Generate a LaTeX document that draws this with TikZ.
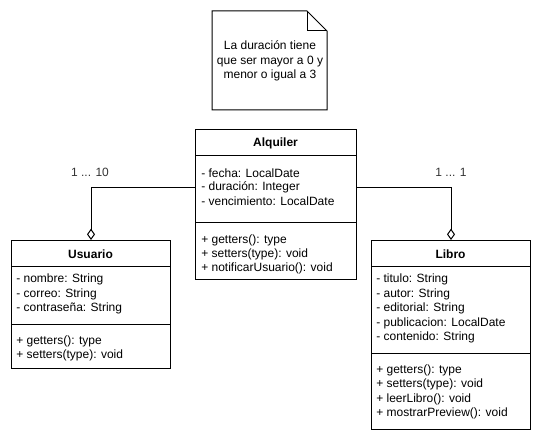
\documentclass[tikz,border=0pt]{standalone}
\usepackage{fontspec}
\setmainfont{Liberation Sans}
\usetikzlibrary{arrows.meta}
\begin{document}
\begin{tikzpicture}[x=0.75pt,y=-0.75pt,
  box/.style={draw,line width=0.75pt,inner sep=0,anchor=north west},
  txt/.style={inner sep=0,anchor=west,font=\fontsize{9}{10}\selectfont},
  ttl/.style={inner sep=0,font=\fontsize{9}{10}\selectfont\bfseries},
  mult/.style={inner sep=0,font=\fontsize{9}{10}\selectfont,text=black!80},
  conn/.style={line width=0.75pt,-{Diamond[open,length=8.5pt,width=6pt]}}]
\useasboundingbox (0,0) rectangle (541,441);
% note
\draw[line width=0.75pt] (212,11) -- (307,11) -- (327,31) -- (327,110) -- (212,110) -- cycle;
\draw[line width=0.75pt] (307,11) -- (307,31) -- (327,31);
\node[inner sep=0,align=center,font=\fontsize{9}{11}\selectfont] (note) at (270,61) {La duración tiene\\que ser mayor a 0 y\\menor o igual a 3};
% Alquiler
\node[box,minimum width=161*0.75pt,minimum height=150*0.75pt] (alq) at (195,129) {};
\draw[line width=0.75pt] (195,156) -- (356,156);
\draw[line width=0.75pt] (195,223) -- (356,223);
\node[ttl] (alqt) at (275.5,143) {Alquiler};
\node[txt] (a1) at (201,173) {- fecha: LocalDate};
\node[txt] (a2) at (201,187) {- duración: Integer};
\node[txt] (a3) at (201,201) {- vencimiento: LocalDate};
\node[txt] (a4) at (201,240) {+ getters(): type};
\node[txt] (a5) at (201,254) {+ setters(type): void};
\node[txt] (a6) at (201,268) {+ notificarUsuario(): void};
% Usuario
\node[box,minimum width=159*0.75pt,minimum height=128*0.75pt] (usu) at (11,240) {};
\draw[line width=0.75pt] (11,266) -- (170,266);
\draw[line width=0.75pt] (11,324) -- (170,324);
\node[ttl] (usut) at (90.5,254) {Usuario};
\node[txt] (u1) at (16,279) {- nombre: String};
\node[txt] (u2) at (16,294) {- correo: String};
\node[txt] (u3) at (16,308) {- contraseña: String};
\node[txt] (u4) at (16,341) {+ getters(): type};
\node[txt] (u5) at (16,355) {+ setters(type): void};
% Libro
\node[box,minimum width=159*0.75pt,minimum height=189*0.75pt] (lib) at (371,240) {};
\draw[line width=0.75pt] (371,266) -- (530,266);
\draw[line width=0.75pt] (371,353) -- (530,353);
\node[ttl] (libt) at (450.5,254) {Libro};
\node[txt] (l1) at (376,279) {- titulo: String};
\node[txt] (l2) at (376,294) {- autor: String};
\node[txt] (l3) at (376,308) {- editorial: String};
\node[txt] (l4) at (376,323) {- publicacion: LocalDate};
\node[txt] (l5) at (376,337) {- contenido: String};
\node[txt] (l6) at (376,370) {+ getters(): type};
\node[txt] (l7) at (376,384) {+ setters(type): void};
\node[txt] (l8) at (376,399) {+ leerLibro(): void};
\node[txt] (l9) at (376,413) {+ mostrarPreview(): void};
% connectors
\draw[conn] (alq.west |- 0,188) -| (usu.north);
\draw[conn] (alq.east |- 0,188) -| (lib.north);
\node[mult] (m1) at (90,172) {1 ... 10};
\node[mult] (m2) at (451,172) {1 ... 1};
\end{tikzpicture}
\end{document}
